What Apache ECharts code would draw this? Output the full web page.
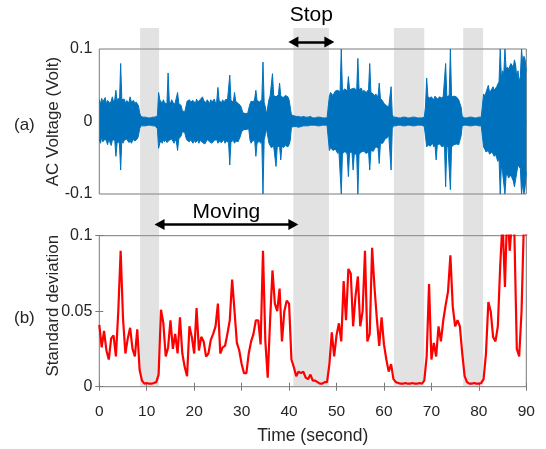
<!DOCTYPE html>
<html>
<head>
<meta charset="utf-8">
<script src="https://cdn.jsdelivr.net/npm/echarts@6/dist/echarts.min.js"></script>
<style>html,body{margin:0;padding:0;background:#fff;}#c{width:546px;height:449px;}</style>
</head>
<body>
<div id="c"></div>
<script>
// ---- data ----
const voltStep = 0.25; // seconds between envelope samples of the AC voltage trace
// upper (positive) excursion of the voltage in each 0.25 s slot, 4 per group = 1 s
const voltUpper = [
 0.030,0.024,0.032,0.027,  0.026,0.033,0.024,0.029,  0.031,0.025,0.028,0.034,  0.027,0.030,0.043,0.028,  0.032,0.026,0.080,0.030,
 0.028,0.031,0.025,0.029,  0.030,0.026,0.034,0.027,  0.025,0.029,0.024,0.027,  0.026,0.022,0.012,0.007,  0.005,0.006,0.005,0.006,
 0.006,0.005,0.006,0.005,  0.005,0.006,0.005,0.006,  0.006,0.008,0.040,0.030,  0.028,0.025,0.030,0.026,  0.027,0.024,0.067,0.028,
 0.025,0.030,0.027,0.023,  0.026,0.028,0.040,0.025,  0.027,0.022,0.015,0.014,  0.013,0.020,0.028,0.026,  0.030,0.027,0.025,0.029,
 0.028,0.025,0.031,0.027,  0.026,0.030,0.028,0.034,  0.029,0.027,0.026,0.030,  0.028,0.025,0.030,0.027,  0.027,0.031,0.025,0.028,
 0.047,0.029,0.028,0.026,  0.030,0.027,0.026,0.031,  0.028,0.030,0.064,0.029,  0.030,0.027,0.040,0.028,  0.028,0.025,0.026,0.022,
 0.018,0.012,0.012,0.011,  0.012,0.011,0.010,0.024,  0.028,0.030,0.027,0.031,  0.043,0.029,0.030,0.027,  0.028,0.030,0.082,0.026,
 0.020,0.010,0.009,0.030,  0.035,0.033,0.066,0.036,  0.036,0.034,0.034,0.037,  0.053,0.035,0.035,0.033,  0.033,0.036,0.035,0.034,
 0.030,0.028,0.009,0.008,  0.008,0.007,0.007,0.008,  0.007,0.008,0.006,0.007,  0.007,0.006,0.006,0.007,  0.006,0.006,0.007,0.005,
 0.005,0.006,0.005,0.006,  0.006,0.005,0.006,0.005,  0.005,0.006,0.005,0.006,  0.005,0.006,0.035,0.040,  0.040,0.036,0.038,0.042,
 0.040,0.043,0.044,0.041,  0.100,0.042,0.040,0.045,  0.045,0.042,0.062,0.044,  0.042,0.045,0.044,0.046,  0.045,0.043,0.087,0.044,
 0.044,0.046,0.040,0.043,  0.045,0.040,0.042,0.044,  0.080,0.040,0.041,0.038,  0.035,0.038,0.036,0.034,  0.053,0.032,0.030,0.028,
 0.025,0.027,0.022,0.024,  0.020,0.018,0.048,0.010,  0.006,0.005,0.006,0.005,  0.005,0.006,0.005,0.006,  0.006,0.005,0.006,0.005,
 0.005,0.006,0.005,0.006,  0.006,0.005,0.006,0.005,  0.005,0.006,0.005,0.006,  0.005,0.006,0.006,0.020,  0.060,0.035,0.032,0.030,
 0.034,0.033,0.030,0.035,  0.033,0.031,0.032,0.034,  0.034,0.032,0.035,0.033,  0.080,0.034,0.035,0.036,  0.100,0.034,0.033,0.035,
 0.033,0.034,0.032,0.030,  0.028,0.020,0.007,0.005,  0.005,0.006,0.005,0.006,  0.006,0.005,0.006,0.005,  0.005,0.006,0.005,0.006,
 0.006,0.005,0.006,0.005,  0.038,0.035,0.040,0.042,  0.050,0.040,0.042,0.045,  0.048,0.043,0.045,0.048,  0.050,0.055,0.100,0.060,
 0.070,0.065,0.100,0.072,  0.075,0.072,0.070,0.080,  0.080,0.075,0.085,0.078,  0.060,0.070,0.055,0.062,  0.100,0.080,0.090,0.085,
 0.070
];
// lower (negative) excursion of the voltage in each 0.25 s slot
const voltLower = [
 -0.025,-0.030,-0.022,-0.028,  -0.030,-0.024,-0.027,-0.032,  -0.024,-0.029,-0.033,-0.026,  -0.028,-0.025,-0.048,-0.030,  -0.027,-0.031,-0.067,-0.025,
 -0.030,-0.026,-0.028,-0.024,  -0.024,-0.029,-0.026,-0.030,  -0.028,-0.024,-0.027,-0.025,  -0.024,-0.020,-0.010,-0.006,  -0.005,-0.006,-0.005,-0.006,
 -0.006,-0.005,-0.006,-0.005,  -0.005,-0.006,-0.005,-0.006,  -0.006,-0.010,-0.037,-0.030,  -0.026,-0.030,-0.025,-0.028,  -0.025,-0.029,-0.030,-0.026,
 -0.028,-0.024,-0.027,-0.030,  -0.025,-0.028,-0.040,-0.024,  -0.024,-0.020,-0.014,-0.015,  -0.015,-0.022,-0.026,-0.028,  -0.028,-0.025,-0.027,-0.030,
 -0.025,-0.029,-0.028,-0.026,  -0.030,-0.026,-0.025,-0.029,  -0.027,-0.031,-0.029,-0.025,  -0.025,-0.028,-0.027,-0.030,  -0.030,-0.026,-0.028,-0.025,
 -0.030,-0.027,-0.026,-0.029,  -0.028,-0.025,-0.030,-0.027,  -0.027,-0.029,-0.060,-0.028,  -0.028,-0.026,-0.030,-0.027,  -0.025,-0.028,-0.026,-0.020,
 -0.014,-0.012,-0.011,-0.010,  -0.011,-0.012,-0.010,-0.025,  -0.030,-0.027,-0.029,-0.026,  -0.048,-0.030,-0.028,-0.027,  -0.030,-0.027,-0.100,-0.025,
 -0.018,-0.010,-0.009,-0.030,  -0.033,-0.036,-0.035,-0.034,  -0.035,-0.062,-0.035,-0.033,  -0.034,-0.053,-0.033,-0.036,  -0.036,-0.033,-0.034,-0.035,
 -0.032,-0.026,-0.008,-0.007,  -0.007,-0.008,-0.007,-0.008,  -0.008,-0.007,-0.007,-0.006,  -0.006,-0.007,-0.006,-0.007,  -0.006,-0.006,-0.005,-0.006,
 -0.005,-0.006,-0.005,-0.006,  -0.006,-0.005,-0.006,-0.005,  -0.005,-0.006,-0.005,-0.006,  -0.005,-0.006,-0.040,-0.036,  -0.036,-0.040,-0.042,-0.038,
 -0.040,-0.044,-0.041,-0.043,  -0.100,-0.045,-0.042,-0.044,  -0.042,-0.045,-0.076,-0.043,  -0.045,-0.042,-0.067,-0.044,  -0.043,-0.046,-0.100,-0.045,
 -0.045,-0.042,-0.044,-0.041,  -0.040,-0.044,-0.045,-0.042,  -0.067,-0.040,-0.038,-0.041,  -0.038,-0.035,-0.034,-0.036,  -0.058,-0.030,-0.028,-0.030,
 -0.027,-0.024,-0.024,-0.022,  -0.018,-0.020,-0.067,-0.010,  -0.006,-0.005,-0.006,-0.005,  -0.005,-0.006,-0.005,-0.006,  -0.006,-0.005,-0.006,-0.005,
 -0.005,-0.006,-0.005,-0.006,  -0.006,-0.005,-0.006,-0.005,  -0.005,-0.006,-0.005,-0.006,  -0.005,-0.006,-0.007,-0.020,  -0.035,-0.032,-0.030,-0.034,
 -0.033,-0.030,-0.035,-0.032,  -0.053,-0.032,-0.034,-0.031,  -0.032,-0.035,-0.034,-0.033,  -0.090,-0.033,-0.036,-0.035,  -0.094,-0.035,-0.034,-0.032,
 -0.034,-0.031,-0.030,-0.032,  -0.026,-0.020,-0.006,-0.005,  -0.005,-0.006,-0.005,-0.006,  -0.006,-0.005,-0.006,-0.005,  -0.005,-0.006,-0.005,-0.006,
 -0.006,-0.005,-0.006,-0.005,  -0.035,-0.038,-0.042,-0.040,  -0.040,-0.045,-0.043,-0.042,  -0.043,-0.048,-0.045,-0.050,  -0.055,-0.050,-0.100,-0.060,
 -0.070,-0.068,-0.100,-0.075,  -0.072,-0.078,-0.080,-0.074,  -0.075,-0.082,-0.090,-0.080,  -0.070,-0.060,-0.060,-0.065,  -0.100,-0.085,-0.100,-0.090,
 -0.070
];

const stdStep = 0.5; // seconds between samples of the standard deviation trace
const stdValues = [
 0.041,0.026,0.037,0.024,0.018,0.032,0.034,0.020,0.050,0.090,
 0.045,0.022,0.032,0.039,0.025,0.020,0.038,0.011,0.004,0.002,
 0.0025,0.002,0.002,0.0025,0.003,0.008,0.051,0.042,0.020,0.026,
 0.044,0.025,0.035,0.022,0.046,0.022,0.013,0.007,0.040,0.033,
 0.022,0.052,0.024,0.033,0.030,0.020,0.022,0.031,0.035,0.040,
 0.055,0.022,0.026,0.027,0.035,0.044,0.071,0.050,0.029,0.024,
 0.015,0.009,0.009,0.022,0.030,0.035,0.044,0.044,0.028,0.090,
 0.030,0.006,0.044,0.077,0.055,0.050,0.065,0.030,0.050,0.057,
 0.055,0.018,0.013,0.007,0.010,0.009,0.010,0.006,0.005,0.008,
 0.004,0.004,0.003,0.002,0.002,0.003,0.003,0.015,0.036,0.020,
 0.034,0.042,0.030,0.070,0.044,0.078,0.075,0.040,0.060,0.073,
 0.040,0.050,0.090,0.030,0.035,0.092,0.066,0.045,0.027,0.046,
 0.028,0.018,0.010,0.015,0.005,0.003,0.0025,0.002,0.002,0.0025,
 0.002,0.002,0.0025,0.002,0.002,0.0025,0.002,0.004,0.020,0.068,
 0.018,0.029,0.020,0.040,0.030,0.044,0.054,0.063,0.087,0.053,
 0.040,0.044,0.040,0.022,0.007,0.003,0.002,0.002,0.0025,0.002,
 0.002,0.0025,0.005,0.022,0.056,0.050,0.033,0.030,0.040,0.080,
 0.110,0.066,0.120,0.090,0.110,0.100,0.025,0.020,0.050,0.110,
 0.100
];

const bandStart = [8.6, 40.9, 62.1, 76.7];   // grey shaded intervals (s)
const bandEnd   = [12.6, 48.4, 68.5, 80.9];

const movingArrow = [12.7, 40.9];  // time span of the "Moving" arrow
const stopArrow   = [40.9, 48.5];  // time span of the "Stop" arrow

const timeTicks = [0,10,20,30,40,50,60,70,80,90];

// ---- build ----
const upperData = voltUpper.map((v, i) => [i * voltStep, v]);
const lowerData = voltLower.map((v, i) => [i * voltStep, v]);
const stdData   = stdValues.map((v, i) => [i * stdStep, v]);

const FONT = "'Liberation Sans', Arial, sans-serif";
const TXT = '#262626';
const BOX = '#7a7a7a';
const BLUE = '#0072BD';

const chart = echarts.init(document.getElementById('c'), null, {renderer: 'canvas'});

const gridL = 99.3, gridR = 19.7;
const envelopeSeries = (data, withZero) => {
  const s = {
    type: 'line', xAxisIndex: 0, yAxisIndex: 0, data: data, showSymbol: false, symbol: 'none',
    sampling: null, clip: true, z: 2,
    lineStyle: {color: BLUE, width: 1},
    areaStyle: {color: BLUE, opacity: 1, origin: 0}
  };
  if (withZero) {
    // closes the anti-aliasing seam where the upper and lower envelopes meet
    s.markLine = {silent: true, symbol: 'none', label: {show: false},
      lineStyle: {color: BLUE, width: 2, type: 'solid'}, data: [{yAxis: 0}]};
  }
  return s;
};

const option = {
  animation: false,
  backgroundColor: '#ffffff',
  textStyle: {fontFamily: FONT},
  grid: [
    {left: gridL, right: gridR, top: 49, height: 145, show: true, borderColor: BOX, borderWidth: 1, backgroundColor: 'transparent'},
    {left: gridL, right: gridR, top: 235.7, height: 151, show: true, borderColor: BOX, borderWidth: 1, backgroundColor: 'transparent'},
    {left: gridL, right: gridR, top: 28, height: 358.7, show: false}
  ],
  xAxis: [
    {gridIndex: 0, type: 'value', min: 0, max: 90, interval: 10,
     axisLine: {show: false}, axisTick: {show: false}, axisLabel: {show: false}, splitLine: {show: false}},
    {gridIndex: 1, type: 'value', min: 0, max: 90, interval: 10, position: 'bottom',
     name: 'Time (second)', nameLocation: 'middle', nameGap: 40,
     nameTextStyle: {fontSize: 17.5, color: TXT, fontFamily: FONT},
     axisLine: {show: false},
     axisTick: {show: true, inside: true, length: 4, lineStyle: {color: BOX}},
     axisLabel: {show: true, margin: 17, fontSize: 15.5, color: TXT, fontFamily: FONT,
       formatter: v => (timeTicks.indexOf(v) >= 0 ? String(v) : '')},
     splitLine: {show: false}},
    {gridIndex: 1, type: 'value', min: 0, max: 90, interval: 10, position: 'top',
     axisLine: {show: false},
     axisTick: {show: true, inside: true, length: 4, lineStyle: {color: BOX}},
     axisLabel: {show: false}, splitLine: {show: false}},
    {gridIndex: 2, type: 'value', min: 0, max: 90, show: false}
  ],
  yAxis: [
    {gridIndex: 0, type: 'value', min: -0.1, max: 0.1, interval: 0.1,
     name: 'AC Voltage (Volt)', nameLocation: 'middle', nameGap: 37, nameMoveOverlap: false,
     nameTextStyle: {fontSize: 17, color: TXT, fontFamily: FONT},
     axisLine: {show: false}, axisTick: {show: false},
     axisLabel: {margin: 7, fontSize: 16, color: TXT, fontFamily: FONT},
     splitLine: {show: false}},
    {gridIndex: 1, type: 'value', min: 0, max: 0.1, interval: 0.05,
     name: 'Standard deviation', nameLocation: 'middle', nameGap: 37, nameMoveOverlap: false,
     nameTextStyle: {fontSize: 17, color: TXT, fontFamily: FONT, padding: [0, 0, 0, 11]},
     axisLine: {show: false},
     axisTick: {show: true, inside: true, length: 4, lineStyle: {color: BOX}},
     axisLabel: {margin: 7, fontSize: 16, color: TXT, fontFamily: FONT},
     splitLine: {show: false}},
    {gridIndex: 1, type: 'value', min: 0, max: 0.1, interval: 0.05, position: 'right',
     axisLine: {show: false},
     axisTick: {show: true, inside: true, length: 4, lineStyle: {color: BOX}},
     axisLabel: {show: false}, splitLine: {show: false}},
    {gridIndex: 2, type: 'value', min: 0, max: 1, show: false}
  ],
  graphic: [
    {type: 'text', left: 14, top: 117, style: {text: '(a)', fontSize: 17, fill: TXT, fontFamily: FONT}},
    {type: 'text', left: 14, top: 310, style: {text: '(b)', fontSize: 17, fill: TXT, fontFamily: FONT}}
  ],
  series: [
    envelopeSeries(upperData, true),
    envelopeSeries(lowerData, false),
    {type: 'line', xAxisIndex: 1, yAxisIndex: 1, data: stdData, showSymbol: false, symbol: 'none',
     clip: true, z: 2,
     lineStyle: {color: '#FF0000', width: 2.2}},
    {type: 'line', xAxisIndex: 3, yAxisIndex: 3, data: [], z: 5, silent: true,
     markArea: {silent: true,
       itemStyle: {color: 'rgba(160,160,160,0.3)'},
       data: bandStart.map((s, i) => [{xAxis: s}, {xAxis: bandEnd[i]}])},
     markLine: {silent: true, symbol: ['triangle', 'triangle'], symbolSize: [11, 10],
       lineStyle: {color: '#000', width: 2.5, type: 'solid'},
       data: [
         [{coord: [movingArrow[0], 0.452], label: {show: true, position: 'middle', formatter: 'Moving', fontSize: 21, color: '#000', fontFamily: FONT, distance: 2}},
          {coord: [movingArrow[1], 0.452]}],
         [{coord: [stopArrow[0], 0.961], label: {show: true, position: 'middle', formatter: 'Stop', fontSize: 21, color: '#000', fontFamily: FONT, distance: 16}},
          {coord: [stopArrow[1], 0.961]}]
       ]}}
  ]
};
chart.setOption(option);
</script>
</body>
</html>
